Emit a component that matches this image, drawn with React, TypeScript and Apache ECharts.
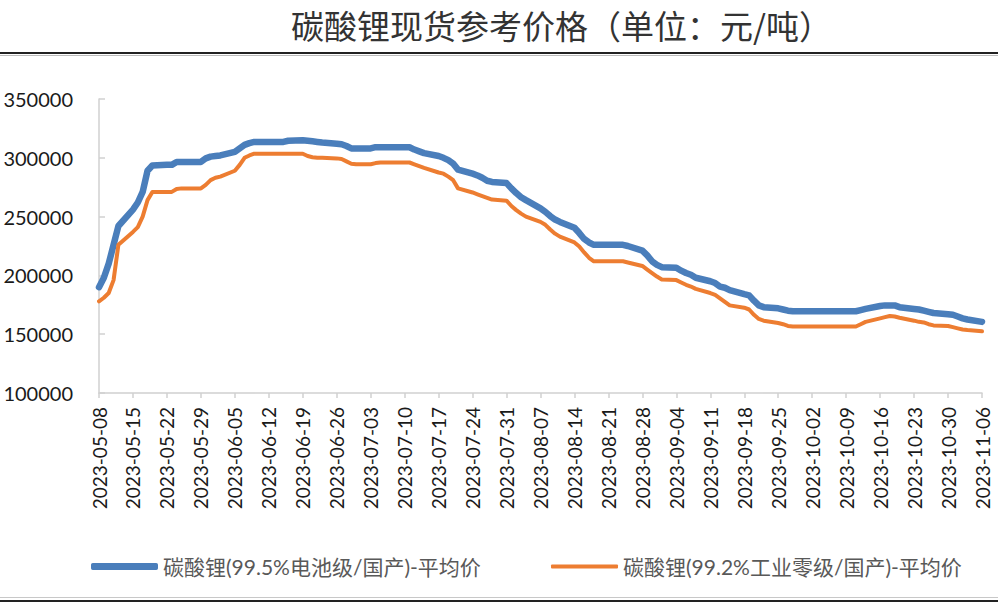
import { useEffect, useRef } from "react";
import * as echarts from "echarts";

const TITLE = "碳酸锂现货参考价格（单位：元/吨）";
const BATTERY_NAME = "碳酸锂(99.5%电池级/国产)-平均价";
const INDUSTRIAL_NAME = "碳酸锂(99.2%工业零级/国产)-平均价";

const BLUE = "#4a7ebb";
const ORANGE = "#ed7d31";

// first and last day shown on the axis (a Monday each)
const START = "2023-05-08";
const DAY_COUNT = 183;

// weekday prices, Monday 2023-05-08 … Monday 2023-11-06
const batteryPrices = [
    190000, 198000, 210000, 226000, 242000,
    256000, 262000, 271000, 289000, 293500,
    294000, 294000, 296500, 296500, 296500,
    296500, 299500, 301000, 301500, 302000,
    305000, 308000, 311000, 312500, 313500,
    313500, 313500, 313500, 313500, 314500,
    315000, 314500, 314000, 313500, 313000,
    312000, 311500, 310000, 308000, 308000,
    308000, 309000, 309000, 309000, 309000,
    309000, 309000, 307000, 305500, 304000,
    301500, 300000, 298000, 295000, 290000,
    286500, 285000, 283000, 280500, 279500,
    278500, 274000, 270000, 266500, 264000,
    257000, 254000, 250500, 247500, 245500,
    240500, 236000, 231000, 228000, 226000,
    226000, 226000, 226000, 226000, 225000,
    221000, 217000, 212000, 209000, 207000,
    206500, 204000, 202000, 200500, 198000,
    195000, 193500, 190500, 189500, 187500,
    184000, 183000, 178500, 174500, 173000,
    172000, 171000, 170000, 169500, 169500,
    169500, 169500, 169500, 169500, 169500,
    169500, 169500, 169500, 170500, 171500,
    174000, 174500, 174500, 174500, 173000,
    171500, 171000, 170000, 169000, 168000,
    167000, 166500, 165000, 163500, 162500,
    160500,
];

const industrialPrices = [
    178000, 181000, 185000, 196000, 226000,
    237000, 241000, 250000, 264000, 271000,
    271000, 271000, 273500, 274000, 274000,
    274000, 277000, 281000, 283000, 284000,
    289000, 294000, 300000, 302000, 303500,
    303500, 303500, 303500, 303500, 303500,
    303500, 301500, 300500, 300000, 300000,
    299500, 299000, 297000, 295000, 294500,
    294500, 295500, 296000, 296000, 296000,
    296000, 296000, 294500, 293000, 291500,
    287500, 286500, 284000, 281000, 274000,
    270500, 269000, 267500, 266000, 264500,
    263500, 259000, 255500, 252500, 250000,
    245500, 243000, 239000, 235500, 233000,
    228000, 224500, 219500, 215000, 212000,
    212000, 212000, 212000, 212000, 211000,
    208000, 205000, 202000, 199000, 196500,
    196000, 194000, 192000, 190500, 188500,
    185000, 183500, 180500, 177500, 174500,
    172500, 171000, 166500, 163000, 161500,
    159500, 158500, 157000, 156500, 156500,
    156500, 156500, 156500, 156500, 156500,
    156500, 156500, 156500, 158500, 160500,
    163500, 164500, 165500, 165000, 164000,
    161500, 160500, 160000, 158500, 157500,
    157000, 156000, 155000, 154000, 153500,
    152500,
];

const Y_MIN = 100000;
const Y_MAX = 350000;
const Y_STEP = 50000;

const LATIN = "Lato, 'Noto Sans CJK SC', sans-serif";

/** Calendar days on the axis; weekend slots stay empty and the line bridges them. */
function buildTable() {
    const [y, m, d] = START.split("-").map(Number);
    const dates: string[] = [];
    const battery: (number | null)[] = [];
    const industrial: (number | null)[] = [];
    let k = 0;
    for (let i = 0; i < DAY_COUNT; i++) {
        const dt = new Date(Date.UTC(y, m - 1, d + i));
        dates.push(dt.toISOString().slice(0, 10));
        const wd = dt.getUTCDay();
        if (wd === 0 || wd === 6) {
            battery.push(null);
            industrial.push(null);
        } else {
            battery.push(batteryPrices[k]);
            industrial.push(industrialPrices[k]);
            k++;
        }
    }
    return { dates, battery, industrial };
}

export default function App() {
    const ref = useRef<HTMLDivElement>(null);

    useEffect(() => {
        if (!ref.current) return;
        const chart = echarts.init(ref.current, undefined, { renderer: "svg" });
        const t = buildTable();

        const legendBase = {
            icon: "roundRect",
            itemWidth: 67,
            itemGap: 10,
            textStyle: { fontSize: 21, color: "#595959", fontFamily: LATIN },
            selectedMode: false,
        };

        chart.setOption({
            animation: false,
            backgroundColor: "#ffffff",
            title: {
                text: TITLE,
                left: 286,
                top: 3,
                textStyle: {
                    fontSize: 33,
                    fontWeight: "normal",
                    color: "#333333",
                    fontFamily: "'Noto Sans CJK SC', sans-serif",
                },
            },
            graphic: [
                { type: "line", shape: { x1: 0, y1: 53, x2: 998, y2: 53 }, style: { stroke: "#222", lineWidth: 2 } },
                { type: "line", shape: { x1: 0, y1: 55.5, x2: 998, y2: 55.5 }, style: { stroke: "#bbb", lineWidth: 1 } },
                { type: "line", shape: { x1: 0, y1: 597.5, x2: 998, y2: 597.5 }, style: { stroke: "#c8c8c8", lineWidth: 1 } },
                { type: "line", shape: { x1: 0, y1: 601, x2: 998, y2: 601 }, style: { stroke: "#222", lineWidth: 2 } },
            ],
            legend: [
                { ...legendBase, data: [BATTERY_NAME], left: 86, top: 551, itemHeight: 7 },
                { ...legendBase, data: [INDUSTRIAL_NAME], left: 546, top: 551, itemHeight: 4 },
            ],
            grid: {
                left: 99,
                right: 16,
                top: 99,
                bottom: 214,
                containLabel: false,
                outerBoundsMode: "none",
            },
            xAxis: {
                type: "category",
                data: t.dates,
                boundaryGap: false,
                axisLine: { lineStyle: { color: "#d0d0d0", width: 1.5 } },
                axisTick: { show: true, interval: 6, length: 5, lineStyle: { color: "#d0d0d0", width: 1.5 } },
                axisLabel: {
                    interval: 6,
                    rotate: 90,
                    margin: 14,
                    fontSize: 19,
                    color: "#1a1a1a",
                    fontFamily: LATIN,
                },
                splitLine: { show: false },
            },
            yAxis: {
                type: "value",
                min: Y_MIN,
                max: Y_MAX,
                interval: Y_STEP,
                axisLine: { show: true, lineStyle: { color: "#d0d0d0", width: 1.5 } },
                axisTick: { show: true, inside: true, length: 6, lineStyle: { color: "#d0d0d0", width: 1.5 } },
                axisLabel: {
                    margin: 26,
                    fontSize: 20,
                    color: "#1a1a1a",
                    fontFamily: LATIN,
                    formatter: (v: number) => String(v),
                },
                splitLine: { show: false },
            },
            series: [
                {
                    name: BATTERY_NAME,
                    type: "line",
                    data: t.battery,
                    connectNulls: true,
                    showSymbol: false,
                    color: BLUE,
                    lineStyle: { width: 6.5, color: BLUE, cap: "round", join: "round" },
                },
                {
                    name: INDUSTRIAL_NAME,
                    type: "line",
                    data: t.industrial,
                    connectNulls: true,
                    showSymbol: false,
                    color: ORANGE,
                    lineStyle: { width: 4, color: ORANGE, cap: "round", join: "round" },
                },
            ],
        });

        return () => chart.dispose();
    }, []);

    return (
        <div
            ref={ref}
            style={{ position: "fixed", left: 0, top: 0, width: 998, height: 607, background: "#fff" }}
        />
    );
}
